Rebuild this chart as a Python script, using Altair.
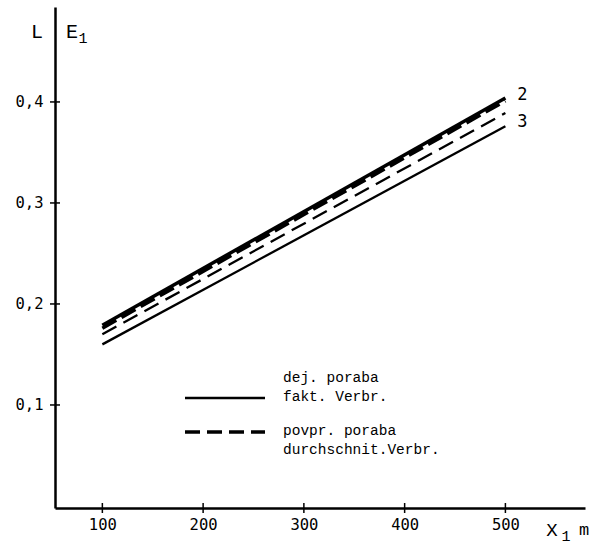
import altair as alt
import pandas as pd

# ---- data ----
x_vals = [100, 500]
fakt_2 = [0.179, 0.404]    # solid, thick (curve 2)
povpr_2 = [0.176, 0.401]   # dashed, thick (curve 2)
povpr_3 = [0.170, 0.389]   # dashed, thin (curve 3)
fakt_3 = [0.160, 0.376]    # solid, thin (curve 3)
curve_labels = ["2", "3"]
curve_label_y = [0.407, 0.380]
y_ticks = [0.1, 0.2, 0.3, 0.4]
x_ticks = [100, 200, 300, 400, 500]
legend_text = ["dej. poraba", "fakt. Verbr.", "povpr. poraba", "durchschnit.Verbr."]

W, H = 530, 501
XDOM = [53, 579]
YDOM = [-0.002, 0.494]
MONO = "Liberation Mono"
SANS = "DejaVu Sans Mono"

xs = alt.Scale(domain=XDOM, nice=False, zero=False)
ys = alt.Scale(domain=YDOM, nice=False, zero=False)

xaxis = alt.Axis(values=x_ticks, title=None, ticks=False, grid=False,
                 domainColor="black", domainWidth=2.5, labelColor="black",
                 labelFont=SANS, labelFontSize=15.5, labelPadding=9)
yaxis = alt.Axis(values=y_ticks, title=None, ticks=False, grid=False,
                 domainColor="black", domainWidth=2.5, labelColor="black",
                 labelFont=SANS, labelFontSize=15.5, labelPadding=12,
                 labelExpr="replace(format(datum.value, '.1f'), '.', ',')")


def line_layer(vals, width, dash=None):
    df = pd.DataFrame({"x": x_vals, "y": vals})
    kw = dict(color="black", strokeWidth=width, clip=False)
    if dash:
        kw["strokeDash"] = dash
    return alt.Chart(df).mark_line(**kw).encode(
        x=alt.X("x:Q", scale=xs, axis=xaxis),
        y=alt.Y("y:Q", scale=ys, axis=yaxis),
    )


lines = [
    line_layer(fakt_2, 3.5),
    line_layer(povpr_2, 3.5, [16, 6]),
    line_layer(povpr_3, 2.3, [16, 8]),
    line_layer(fakt_3, 2.3),
]

# crossing tick marks
yt = alt.Chart(pd.DataFrame({"v": y_ticks})).mark_rule(color="black", strokeWidth=1.5).encode(
    y=alt.Y("v:Q", scale=ys), x=alt.value(-5), x2=alt.value(5))
xt = alt.Chart(pd.DataFrame({"v": x_ticks})).mark_rule(color="black", strokeWidth=1.5).encode(
    x=alt.X("v:Q", scale=xs), y=alt.value(H - 5), y2=alt.value(H + 5))

# curve labels
lab = alt.Chart(pd.DataFrame({"x": [x_vals[-1]] * 2, "y": curve_label_y, "t": curve_labels})).mark_text(
    font=SANS, fontSize=17, color="black", dx=17, align="center", baseline="middle").encode(
    x=alt.X("x:Q", scale=xs), y=alt.Y("y:Q", scale=ys), text="t:N")


def txt(t, x, y, size=17, font=MONO, align="center", baseline="middle", weight="normal"):
    return alt.Chart(pd.DataFrame({"t": [t]})).mark_text(
        font=font, fontSize=size, color="black", align=align, baseline=baseline,
        fontWeight=weight).encode(
        x=alt.value(x), y=alt.value(y), text="t:N")


titles = [
    txt("L", -18, 25, size=20),
    txt("E", 17, 25, size=20),
    txt("1", 28, 31, size=15),
    txt("X", 497, 523, size=19),
    txt("1", 511, 529, size=15),
    txt("m", 529, 523, size=17),
]

# legend
leg_solid = alt.Chart(pd.DataFrame({"a": [0]})).mark_rule(color="black", strokeWidth=2.5).encode(
    x=alt.value(130), x2=alt.value(210), y=alt.value(391))
leg_dash = alt.Chart(pd.DataFrame({"a": [0]})).mark_rule(color="black", strokeWidth=3.5, strokeDash=[15, 7]).encode(
    x=alt.value(130), x2=alt.value(210), y=alt.value(425))
leg_txt = [
    txt(legend_text[0], 228, 375, size=14.5, align="left", baseline="alphabetic"),
    txt(legend_text[1], 228, 394, size=14.5, align="left", baseline="alphabetic"),
    txt(legend_text[2], 228, 428, size=14.5, align="left", baseline="alphabetic"),
    txt(legend_text[3], 228, 447, size=14.5, align="left", baseline="alphabetic"),
]

chart = alt.layer(*lines, yt, xt, lab, *titles, leg_solid, leg_dash, *leg_txt).properties(
    width=W, height=H,
    autosize=alt.AutoSizeParams(type="none"),
    padding={"left": 55, "top": 7, "right": 4, "bottom": 37},
    background="white",
).configure_view(stroke=None)

chart.save("out.html", embed_options={"renderer": "svg", "actions": False})
